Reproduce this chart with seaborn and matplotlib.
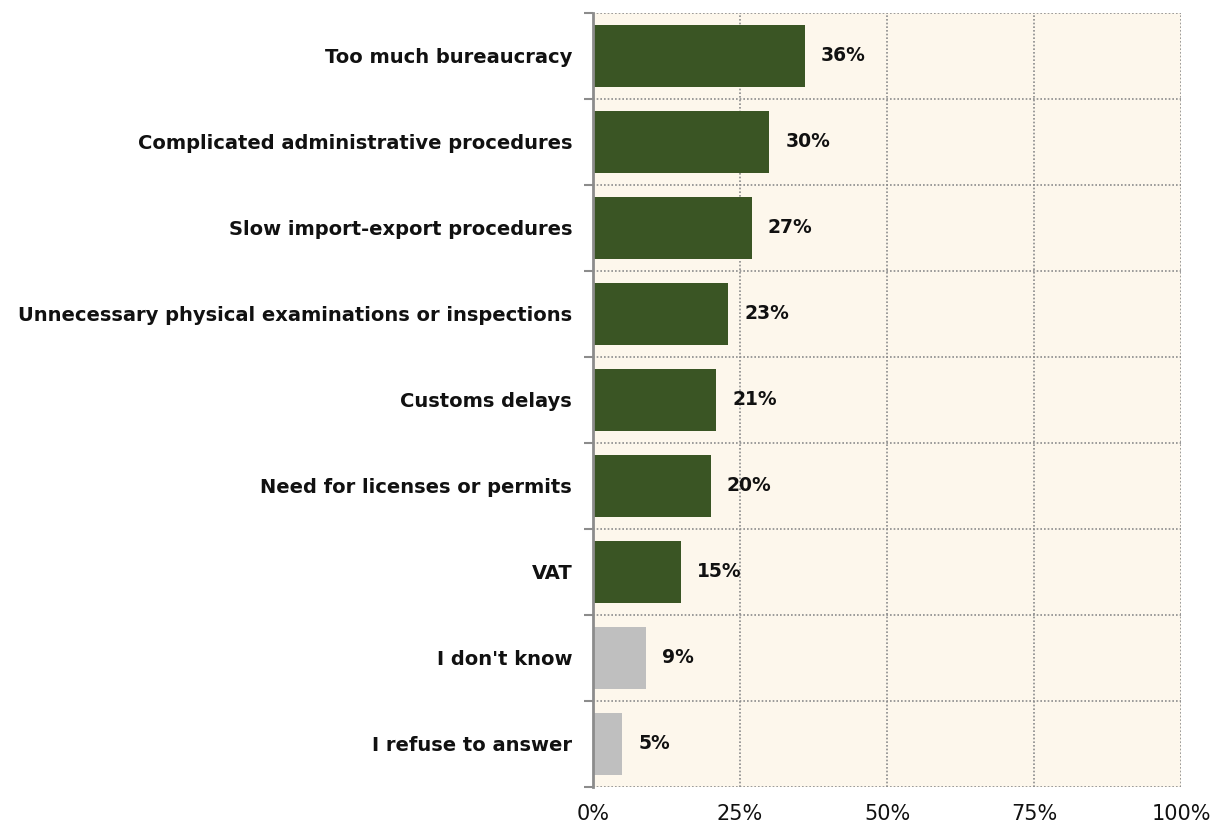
import numpy as np
import pandas as pd
import matplotlib
matplotlib.use("Agg")
import matplotlib.pyplot as plt
import seaborn as sns

categories = [
    "Too much bureaucracy",
    "Complicated administrative procedures",
    "Slow import-export procedures",
    "Unnecessary physical examinations or inspections",
    "Customs delays",
    "Need for licenses or permits",
    "VAT",
    "I don't know",
    "I refuse to answer",
]
values = [36, 30, 27, 23, 21, 20, 15, 9, 5]
groups = ["obstacle"] * 7 + ["other"] * 2
x_ticks = [0, 25, 50, 75, 100]
x_tick_labels = ["0%", "25%", "50%", "75%", "100%"]

palette = {"obstacle": "#3A5524", "other": "#BFBFBF"}
grid_color = "#8C8C8C"
text_color = "#111111"

sns.set_theme(style="white")
plt.rcParams["font.family"] = ["DejaVu Sans"]

df = pd.DataFrame({"category": categories, "value": values, "group": groups})

fig = plt.figure(figsize=(12.12, 8.25), dpi=100)
ax = fig.add_axes([0.4893, 0.0461, 0.4851, 0.9382])
ax.set_facecolor("#FDF7EC")

sns.barplot(data=df, x="value", y="category", hue="group", palette=palette,
            dodge=False, legend=False, width=0.72, ax=ax, saturation=1,
            edgecolor="none", zorder=2)

ax.set_xlim(0, 100)
ax.set_ylim(len(categories) - 0.5, -0.5)

# dotted grid: vertical at percentage ticks, horizontal between categories
bounds = np.arange(len(categories) + 1) - 0.5
ax.set_yticks(bounds, minor=True)
ax.set_xticks(x_ticks)
ax.set_xticklabels(x_tick_labels, fontsize=15, color=text_color)
ax.grid(False)
for xv in x_ticks[1:]:
    ax.axvline(xv, color=grid_color, lw=1.2, ls=(0, (1, 1.2)), zorder=1)
for b in bounds:
    ax.axhline(b, color=grid_color, lw=1.2, ls=(0, (1, 1.2)), zorder=1)

ax.tick_params(axis="y", which="major", left=False, length=0, pad=15,
               labelsize=14, labelcolor=text_color)
ax.tick_params(axis="y", which="minor", left=True, length=6.5, width=1.5,
               color=grid_color, direction="out")
ax.tick_params(axis="x", which="major", bottom=False, length=0, pad=12)
for lab in ax.get_yticklabels():
    lab.set_fontweight("bold")

for s in ["top", "right", "bottom"]:
    ax.spines[s].set_visible(False)
ax.spines["left"].set_color(grid_color)
ax.spines["left"].set_linewidth(2)
ax.spines["left"].set_zorder(3)
ax.set_xlabel("")
ax.set_ylabel("")

for i, v in enumerate(values):
    ax.text(v + 2.7, i, f"{v}%", va="center", ha="left", fontsize=13.5,
            fontweight="bold", color=text_color)

fig.savefig("out.png", dpi=100, facecolor="white")
